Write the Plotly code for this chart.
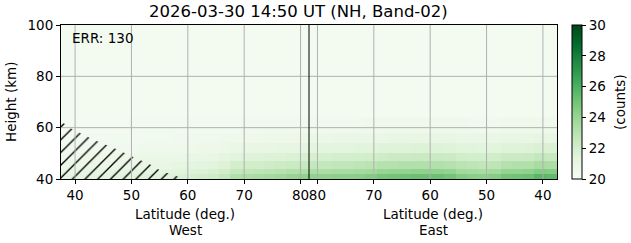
import plotly.graph_objects as go

# ---- data -------------------------------------------------------------
title_text = "2026-03-30 14:50 UT (NH, Band-02)"
err_text = "ERR: 130"

# latitude bin edges (deg) for West (increasing to pole) and East (decreasing from pole)
lat_edges_west = [37.5, 39.5, 41.5, 43.5, 45.5, 47.5, 49.5, 51.5, 53.5, 55.5, 57.5,
                  59.5, 61.5, 63.5, 65.5, 67.5, 69.5, 71.5, 73.5, 75.5, 77.5, 79.5, 81.5]
lat_edges_east = [81.5, 79.5, 77.5, 75.5, 73.5, 71.5, 69.5, 67.5, 65.5, 63.5, 61.5,
                  59.5, 57.5, 55.5, 53.5, 51.5, 49.5, 47.5, 45.5, 43.5, 41.5, 39.5, 37.5]
height_edges = [40, 42, 44, 47, 50, 54, 58, 64, 100]

# counts per height band (bottom -> top), West columns then East columns
counts_west = [
    [21.2, 21.2, 21.3, 21.3, 21.3, 21.4, 21.4, 21.5, 21.5, 21.6, 21.7, 21.8, 22.0, 22.2, 22.6, 23.2, 23.4, 23.5, 23.6, 23.8, 24.0, 24.2],
    [21.0, 21.0, 21.1, 21.1, 21.1, 21.2, 21.2, 21.2, 21.2, 21.3, 21.4, 21.5, 21.6, 21.8, 22.1, 22.6, 22.7, 22.8, 22.9, 23.0, 23.2, 23.3],
    [20.8, 20.8, 20.9, 20.9, 20.9, 20.9, 20.9, 21.0, 21.0, 21.0, 21.1, 21.2, 21.3, 21.4, 21.6, 22.0, 22.1, 22.1, 22.2, 22.3, 22.4, 22.5],
    [20.6, 20.6, 20.7, 20.7, 20.7, 20.7, 20.7, 20.8, 20.8, 20.8, 20.8, 20.9, 20.9, 21.0, 21.2, 21.4, 21.5, 21.5, 21.6, 21.6, 21.7, 21.8],
    [20.5, 20.5, 20.5, 20.5, 20.5, 20.5, 20.5, 20.6, 20.6, 20.6, 20.6, 20.6, 20.7, 20.7, 20.8, 20.9, 21.0, 21.0, 21.0, 21.1, 21.1, 21.2],
    [20.4, 20.4, 20.4, 20.4, 20.4, 20.4, 20.4, 20.4, 20.4, 20.4, 20.5, 20.5, 20.5, 20.5, 20.6, 20.6, 20.6, 20.6, 20.7, 20.7, 20.7, 20.7],
    [20.3, 20.3, 20.3, 20.3, 20.3, 20.3, 20.4, 20.4, 20.4, 20.4, 20.4, 20.4, 20.4, 20.4, 20.4, 20.4, 20.5, 20.5, 20.5, 20.5, 20.5, 20.5],
    [20.25, 20.25, 20.25, 20.25, 20.25, 20.25, 20.25, 20.25, 20.25, 20.25, 20.25, 20.25, 20.25, 20.25, 20.25, 20.25, 20.25, 20.25, 20.25, 20.25, 20.25, 20.25],
]
counts_east = [
    [24.2, 24.2, 24.3, 24.3, 24.4, 24.6, 24.9, 25.0, 25.1, 25.2, 25.2, 25.2, 25.0, 24.6, 24.4, 24.3, 24.5, 25.0, 25.1, 25.2, 25.7, 25.5],
    [23.4, 23.4, 23.5, 23.5, 23.6, 23.7, 24.0, 24.1, 24.1, 24.2, 24.2, 24.2, 24.1, 23.7, 23.6, 23.5, 23.7, 24.1, 24.1, 24.2, 24.6, 24.5],
    [22.6, 22.6, 22.7, 22.7, 22.8, 22.9, 23.1, 23.1, 23.2, 23.2, 23.2, 23.2, 23.1, 22.9, 22.8, 22.7, 22.8, 23.1, 23.2, 23.2, 23.5, 23.4],
    [21.9, 21.9, 22.0, 22.0, 22.0, 22.1, 22.2, 22.3, 22.3, 22.4, 22.4, 22.4, 22.3, 22.1, 22.0, 22.0, 22.1, 22.3, 22.3, 22.4, 22.6, 22.5],
    [21.3, 21.3, 21.3, 21.3, 21.4, 21.4, 21.5, 21.5, 21.5, 21.6, 21.6, 21.6, 21.5, 21.4, 21.4, 21.3, 21.4, 21.5, 21.5, 21.6, 21.7, 21.7],
    [20.8, 20.8, 20.9, 20.9, 20.9, 20.9, 20.9, 21.0, 21.0, 21.0, 21.0, 21.0, 21.0, 20.9, 20.9, 20.9, 20.9, 21.0, 21.0, 21.0, 21.1, 21.0],
    [20.5, 20.5, 20.5, 20.5, 20.5, 20.6, 20.6, 20.6, 20.6, 20.6, 20.6, 20.6, 20.6, 20.6, 20.5, 20.5, 20.5, 20.6, 20.6, 20.6, 20.6, 20.6],
    [20.25, 20.25, 20.25, 20.25, 20.25, 20.25, 20.25, 20.25, 20.25, 20.25, 20.25, 20.25, 20.25, 20.25, 20.25, 20.25, 20.25, 20.25, 20.25, 20.25, 20.25, 20.25],
]

# hatched (invalid) region, West side
hatch_lat = [37.5, 37.5, 38.0, 39.2, 43.1, 47.4, 50.2, 53.1, 55.2, 58.4, 59.5]
hatch_height = [40.0, 61.8, 61.7, 59.8, 55.5, 51.6, 48.7, 45.9, 43.2, 40.7, 40.0]

tick_lat_west = [40, 50, 60, 70, 80]
tick_lat_east = [80, 70, 60, 50, 40]
height_ticks = [40, 60, 80, 100]
cbar_ticks = [20, 22, 24, 26, 28, 30]

# ---- axis mapping: West latitude -> u = lat ; East latitude -> u = POLE2 - lat
POLE2 = 163.0
def west(lat):
    return lat
def east(lat):
    return POLE2 - lat

x_edges = [west(v) for v in lat_edges_west] + [east(v) for v in lat_edges_east[1:]]
z = [w + e for w, e in zip(counts_west, counts_east)]

greens = [[0.0, "#f7fcf5"], [0.125, "#e5f5e0"], [0.25, "#c7e9c0"], [0.375, "#a1d99b"],
          [0.5, "#74c476"], [0.625, "#41ab5d"], [0.75, "#238b45"], [0.875, "#006d2c"],
          [1.0, "#00441b"]]

FONT = "DejaVu Sans"
W, H = 631, 243
L, R, T, B = 61, 557, 25, 179
pw, ph = R - L, B - T

def px_x(p):
    return (p - L) / pw
def px_y(p):
    return (B - p) / ph

fig = go.Figure()
fig.add_trace(go.Heatmap(
    x=x_edges, y=height_edges, z=z, zmin=20, zmax=30, colorscale=greens,
    colorbar=dict(
        x=px_x(572), xanchor="left", xref="paper", y=0.5, yanchor="middle",
        len=1.0, lenmode="fraction", thickness=10, thicknessmode="pixels",
        outlinewidth=1, outlinecolor="black", tickvals=cbar_ticks,
        ticks="outside", ticklen=4, tickwidth=1, tickcolor="black",
        tickfont=dict(family=FONT, size=13.5, color="black"), xpad=0, ypad=0,
    ),
    hoverinfo="skip",
))

fig.add_trace(go.Scatter(
    x=[west(v) for v in hatch_lat], y=hatch_height, mode="lines",
    line=dict(width=0, color="rgba(0,0,0,0)"), fill="toself",
    fillcolor="rgba(0,0,0,0)",
    fillpattern=dict(shape="/", fgcolor="black", fgopacity=1, bgcolor="rgba(0,0,0,0)",
                     size=9, solidity=0.15, fillmode="overlay"),
    showlegend=False, hoverinfo="skip",
))

tickvals = [west(v) for v in tick_lat_west] + [east(v) for v in tick_lat_east]
ticktext = [str(v) for v in tick_lat_west] + [str(v) for v in tick_lat_east]

shapes = []
for tv in tickvals:
    shapes.append(dict(type="line", xref="x", yref="paper", x0=tv, x1=tv, y0=0, y1=1,
                       line=dict(color="#b0b0b0", width=1), layer="above"))
for hv in height_ticks[1:-1]:
    shapes.append(dict(type="line", xref="paper", yref="y", x0=0, x1=1, y0=hv, y1=hv,
                       line=dict(color="#b0b0b0", width=1), layer="above"))
shapes.append(dict(type="line", xref="x", yref="paper", x0=west(81.5), x1=west(81.5), y0=0, y1=1,
                   line=dict(color="black", width=1), layer="above"))

mid_w = (west(lat_edges_west[0]) + west(lat_edges_west[-1])) / 2
mid_e = (east(lat_edges_east[0]) + east(lat_edges_east[-1])) / 2
tf = dict(family=FONT, size=13.5, color="black")
annotations = [
    dict(text=title_text, xref="paper", yref="paper", x=px_x(298), y=px_y(11),
         xanchor="center", yanchor="middle", showarrow=False,
         font=dict(family=FONT, size=16.5, color="black")),
    dict(text=err_text, xref="paper", yref="paper", x=px_x(70), y=px_y(38),
         xanchor="left", yanchor="middle", showarrow=False, font=tf),
    dict(text="Latitude (deg.)", xref="x", yref="paper", x=mid_w, y=px_y(214),
         xanchor="center", yanchor="middle", showarrow=False, font=tf),
    dict(text="West", xref="x", yref="paper", x=mid_w, y=px_y(230),
         xanchor="center", yanchor="middle", showarrow=False, font=tf),
    dict(text="Latitude (deg.)", xref="x", yref="paper", x=mid_e, y=px_y(214),
         xanchor="center", yanchor="middle", showarrow=False, font=tf),
    dict(text="East", xref="x", yref="paper", x=mid_e, y=px_y(230),
         xanchor="center", yanchor="middle", showarrow=False, font=tf),
    dict(text="Height (km)", xref="paper", yref="paper", x=px_x(11), y=0.5,
         xanchor="center", yanchor="middle", textangle=-90, showarrow=False, font=tf),
    dict(text="(counts)", xref="paper", yref="paper", x=px_x(620), y=0.5,
         xanchor="center", yanchor="middle", textangle=-90, showarrow=False, font=tf),
]

fig.update_layout(
    width=W, height=H, margin=dict(l=L, r=W - R, t=T, b=H - B),
    paper_bgcolor="white", plot_bgcolor="white",
    font=dict(family=FONT, size=13.5, color="black"),
    shapes=shapes, annotations=annotations, showlegend=False,
    xaxis=dict(range=[x_edges[0], x_edges[-1]], tickvals=tickvals, ticktext=ticktext,
               tickangle=0, showgrid=False, zeroline=False, showline=True, linecolor="black",
               linewidth=1, mirror=True, ticks="outside", ticklen=4, tickwidth=1,
               tickcolor="black", tickfont=tf, layer="above traces"),
    yaxis=dict(range=[40, 100], tickvals=height_ticks, showgrid=False, zeroline=False,
               showline=True, linecolor="black", linewidth=1, mirror=True,
               ticks="outside", ticklen=4, tickwidth=1, tickcolor="black",
               tickfont=tf, layer="above traces"),
)

fig.write_html("out.html")
